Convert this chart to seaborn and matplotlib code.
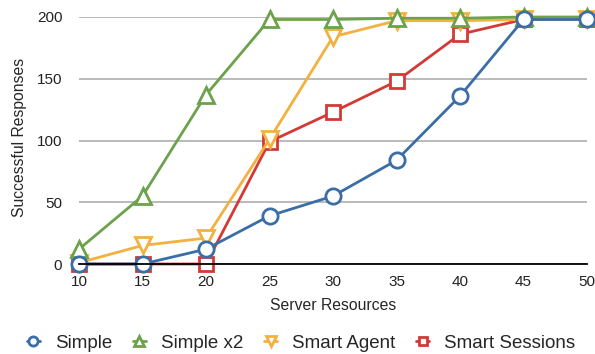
import numpy as np
import pandas as pd
import seaborn as sns
import matplotlib.pyplot as plt

resources = [10, 15, 20, 25, 30, 35, 40, 45, 50]
simple = [0, 0, 12, 39, 55, 84, 136, 198, 198]
simple_x2 = [12, 55, 137, 198, 198, 199, 199, 200, 200]
smart_agent = [1, 15, 21, 101, 184, 197, 197, 198, 198]
smart_sessions = [0, 0, 0, 99, 123, 148, 186, 198, 198]

sns.set_style("white")
plt.rcParams['font.family'] = ['Liberation Sans', 'DejaVu Sans']

fig = plt.figure(figsize=(5.95, 3.54), dpi=100)
ax = fig.add_axes([79/595, 1 - 264/354, 508/595, 247/354])

# draw order matters for overlapping markers
series = [
    ("Smart Sessions", smart_sessions, "#d33a36", "s", 10),
    ("Smart Agent", smart_agent, "#f2b140", "v", 12),
    ("Simple x2", simple_x2, "#6ba24b", "^", 12),
    ("Simple", simple, "#3b6ea6", "o", 11),
]
for name, vals, col, mk, ms in series:
    sns.lineplot(x=resources, y=vals, ax=ax, color=col, marker=mk, ms=ms,
                 mfc="white", mec=col, mew=2, lw=2, label=name, clip_on=False)

ax.set_xlim(10, 50)
ax.set_ylim(0, 200)
ax.set_xticks(resources)
ax.set_yticks([0, 50, 100, 150, 200])
ax.yaxis.grid(True, color="#b4b4b4", lw=1.3)
ax.set_axisbelow(True)
for s in ["left", "right", "top"]:
    ax.spines[s].set_visible(False)
ax.spines["bottom"].set_color("black")
ax.spines["bottom"].set_linewidth(1.3)
ax.tick_params(length=0, labelsize=11, colors="#222222", pad=8)
ax.tick_params(axis="y", pad=12)

ax.set_xlabel("Server Resources", fontsize=11.3)
ax.set_ylabel("Successful Responses", fontsize=11.3)
ax.xaxis.set_label_coords(0.5, -0.138)
ax.yaxis.set_label_coords(-0.103, 0.514)

h, l = ax.get_legend_handles_labels()
order = [3, 2, 1, 0]
ax.legend([h[i] for i in order], [l[i] for i in order], loc="center",
          bbox_to_anchor=(301/595, 1 - 343/354), bbox_transform=fig.transFigure,
          ncol=4, frameon=False, fontsize=13.5, handlelength=0.7,
          markerscale=0.6, columnspacing=1.1, handletextpad=0.8)

fig.savefig("out.png", dpi=100)
